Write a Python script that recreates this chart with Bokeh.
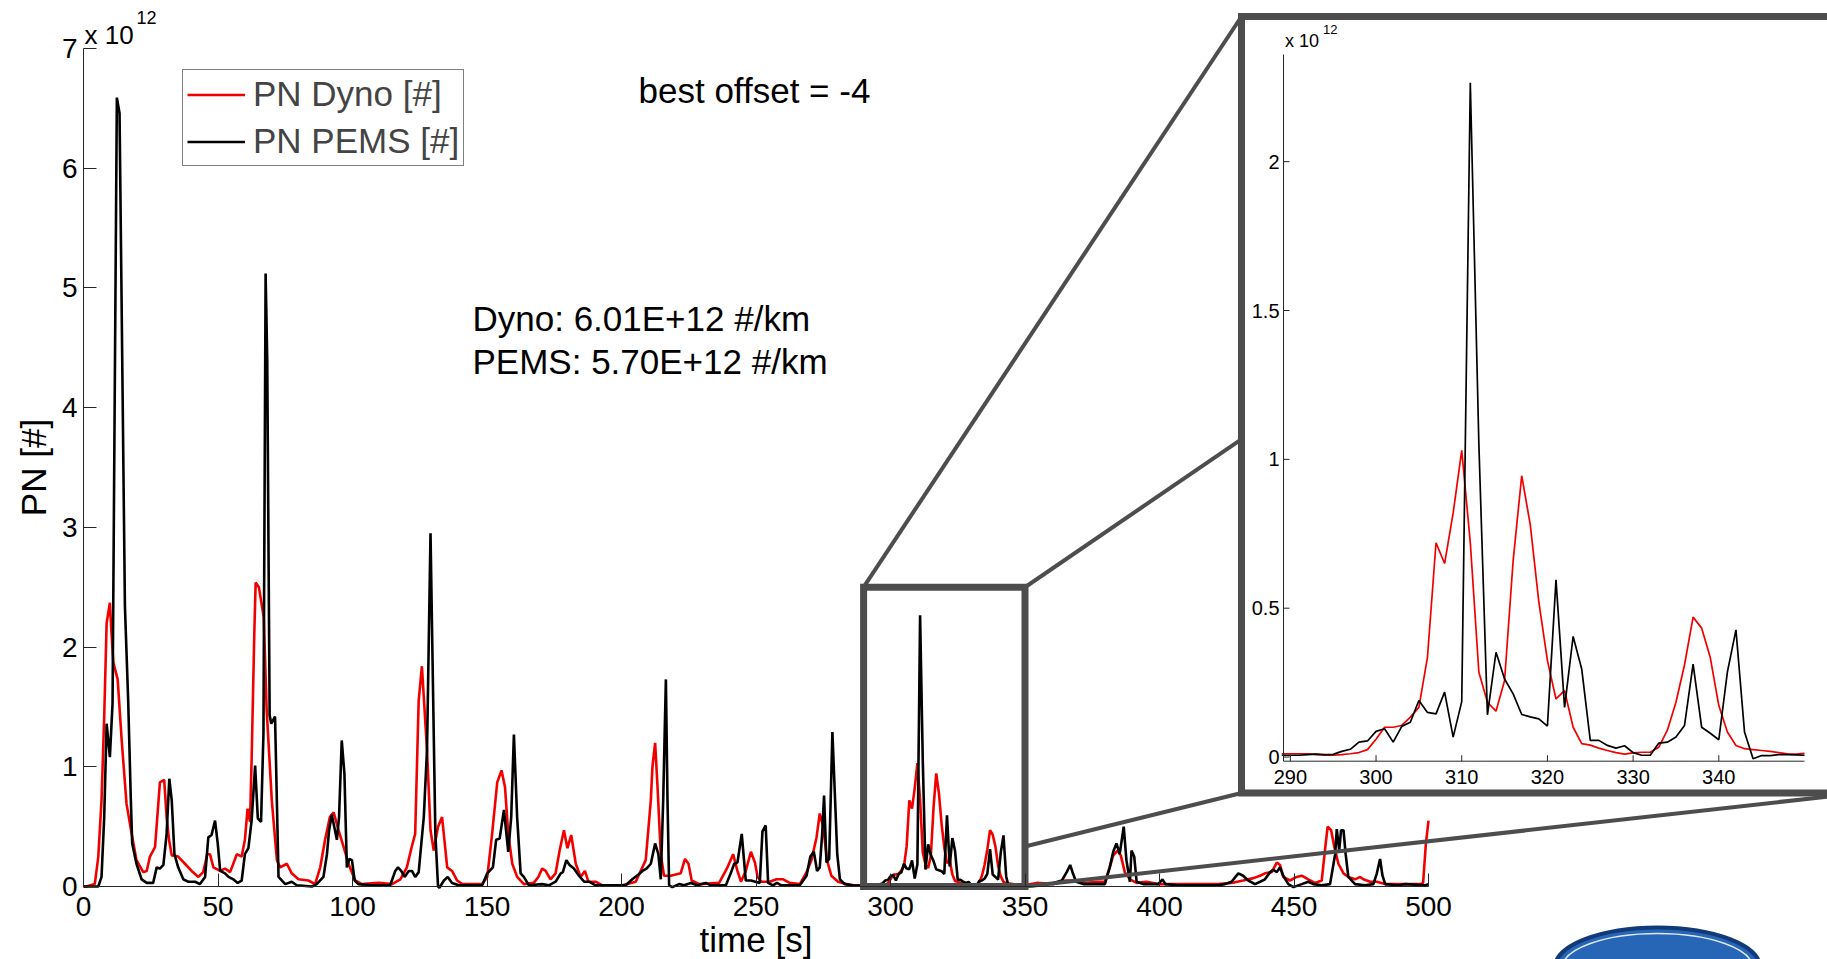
import math
from bokeh.plotting import figure
from bokeh.models import Range1d, FixedTicker, Legend, LegendItem
from bokeh.core.properties import value
from bokeh.embed import file_html
from bokeh.resources import INLINE

# ---------------- data (PN in units of 1e12 #, time in s) ----------------
DYNO_T_A = [
    0, 1, 4.2, 5.5, 6.7, 7.7, 8.6, 9.8, 10.4, 11.1,
    12.7, 14.2, 16.0, 17.9, 19.7, 22.2, 23.5, 24.7, 26.6, 28.4,
    30.0, 30.9, 31.8, 32.8, 35.2, 37.7, 40.2, 42.7, 44.5, 46.0,
    47.0, 48.3, 50.8, 52.6, 54.5, 57.0, 58.8, 60.0, 61.0, 61.9,
    62.5, 63.5, 64.0, 65.2, 67.0, 68.1, 70.0, 71.9, 73.1, 75.6,
    77.4, 79.9, 83.6, 86.1, 88.0, 89.8, 91.6, 93.0, 94.8, 96.7,
    98.5, 101.0, 103.5, 109.7, 114.7, 117.8, 120.2, 122.0, 123.3, 124.6,
    125.8, 127.7, 129.0, 130.2, 131.8, 133.3, 135.2, 137.0, 138.9, 140.8,
    148.2, 150.1, 151.9, 153.8, 155.4, 156.7, 157.9, 159.4, 161.2, 163.7,
    167.4, 169.1, 170.5, 171.8, 173.6, 175.5, 177.0, 178.6, 179.9, 181.3,
    183.0, 184.8, 186.4, 187.7, 190.4, 192.9, 200.3, 205.3, 209.0, 210.9,
    211.5, 212.5, 213.4, 214.6, 215.8, 218.3, 222.0, 223.6, 224.9, 226.1,
    228.9, 236.3, 239.4, 241.5, 243.1, 244.4, 246.2, 248.1, 249.6, 250.6,
    252.0, 255.1, 257.6, 260.1, 262.5, 266.3, 268.8, 270.6, 272.5, 273.7,
    275.0, 276.4, 278.0, 280.5, 283.6, 286.0]
DYNO_V_A = [
    0.00, 0.00, 0.02, 0.25, 0.72, 1.42, 2.20, 2.37, 2.12, 1.87,
    1.73, 1.22, 0.69, 0.44, 0.22, 0.12, 0.13, 0.25, 0.33, 0.87,
    0.89, 0.58, 0.39, 0.26, 0.25, 0.19, 0.13, 0.08, 0.12, 0.27,
    0.27, 0.16, 0.13, 0.15, 0.12, 0.27, 0.25, 0.39, 0.65, 0.54,
    1.06, 2.12, 2.54, 2.50, 2.25, 1.47, 0.72, 0.22, 0.16, 0.19,
    0.11, 0.06, 0.05, 0.02, 0.16, 0.39, 0.58, 0.62, 0.47, 0.33,
    0.19, 0.05, 0.02, 0.03, 0.02, 0.06, 0.16, 0.33, 0.44, 1.55,
    1.84, 1.14, 0.47, 0.30, 0.50, 0.58, 0.16, 0.13, 0.05, 0.02,
    0.02, 0.08, 0.44, 0.87, 0.97, 0.83, 0.44, 0.19, 0.08, 0.02,
    0.03, 0.08, 0.15, 0.13, 0.06, 0.11, 0.30, 0.47, 0.32, 0.43,
    0.19, 0.08, 0.13, 0.04, 0.04, 0.01, 0.01, 0.04, 0.22, 0.72,
    1.00, 1.20, 0.83, 0.27, 0.09, 0.09, 0.11, 0.23, 0.19, 0.05,
    0.02, 0.03, 0.16, 0.27, 0.13, 0.04, 0.13, 0.29, 0.20, 0.08,
    0.04, 0.04, 0.06, 0.06, 0.03, 0.02, 0.12, 0.22, 0.41, 0.61,
    0.50, 0.22, 0.09, 0.04, 0.02, 0.01]

# 1-s samples inside the zoomed window 289..350 s
ZOOM_T = [289, 290, 291, 292, 293, 294, 295, 296, 297, 298,
          299, 300, 301, 302, 303, 304, 305, 306, 307, 308,
          309, 310, 311, 312, 313, 314, 315, 316, 317, 318,
          319, 320, 321, 322, 323, 324, 325, 326, 327, 328,
          329, 330, 331, 332, 333, 334, 335, 336, 337, 338,
          339, 340, 341, 342, 343, 344, 345, 346, 347, 348,
          349, 350]
DYNO_V_ZOOM = [
    0.011, 0.011, 0.011, 0.011, 0.009, 0.006, 0.006, 0.008, 0.011, 0.015,
    0.025, 0.060, 0.100, 0.100, 0.106, 0.134, 0.167, 0.335, 0.720, 0.650,
    0.820, 1.030, 0.720, 0.285, 0.184, 0.154, 0.257, 0.660, 0.945, 0.780,
    0.520, 0.324, 0.195, 0.223, 0.100, 0.045, 0.040, 0.030, 0.022, 0.015,
    0.010, 0.014, 0.016, 0.016, 0.033, 0.090, 0.184, 0.310, 0.470, 0.433,
    0.335, 0.173, 0.084, 0.039, 0.028, 0.025, 0.022, 0.019, 0.015, 0.011,
    0.010, 0.012]
PEMS_V_ZOOM = [
    0.006, 0.006, 0.006, 0.008, 0.010, 0.008, 0.009, 0.019, 0.026, 0.050,
    0.054, 0.086, 0.095, 0.050, 0.103, 0.117, 0.190, 0.150, 0.145, 0.218,
    0.067, 0.186, 2.265, 1.050, 0.142, 0.352, 0.262, 0.212, 0.143, 0.135,
    0.128, 0.104, 0.595, 0.167, 0.405, 0.296, 0.056, 0.056, 0.039, 0.030,
    0.038, 0.015, 0.006, 0.006, 0.047, 0.050, 0.067, 0.106, 0.312, 0.100,
    0.080, 0.058, 0.285, 0.427, 0.084, -0.006, 0.005, 0.005, 0.008, 0.008,
    0.007, 0.006]

DYNO_T_C = [
    354.4, 360.6, 365.0, 368.0, 373.0, 377.3, 379.7, 381.5, 382.8, 384.4,
    385.6, 387.1, 389.0, 391.5, 395.2, 399.5, 403.2, 411.9, 421.8, 426.8,
    431.1, 434.9, 437.4, 439.2, 441.7, 443.6, 444.8, 446.0, 448.5, 451.0,
    452.9, 455.3, 457.8, 460.3, 461.5, 462.5, 463.8, 465.0, 466.5, 468.4,
    470.2, 472.7, 474.6, 475.8, 478.3, 480.8, 483.9, 488.8, 493.8, 496.9,
    498.0, 499.0, 499.5, 500.0]
DYNO_V_C = [
    0.03, 0.02, 0.05, 0.05, 0.03, 0.04, 0.04, 0.16, 0.26, 0.30,
    0.26, 0.12, 0.06, 0.03, 0.04, 0.02, 0.02, 0.02, 0.02, 0.03,
    0.05, 0.07, 0.09, 0.11, 0.12, 0.20, 0.18, 0.08, 0.05, 0.08,
    0.09, 0.06, 0.03, 0.05, 0.30, 0.50, 0.47, 0.33, 0.19, 0.11,
    0.08, 0.06, 0.08, 0.06, 0.04, 0.04, 0.02, 0.02, 0.02, 0.02,
    0.03, 0.35, 0.45, 0.55]

PEMS_T_A = [
    0, 1, 2, 3, 4, 5.5, 6.7, 7.7, 8.6, 9.8,
    10.8, 12.4, 13.4, 15.4, 16.6, 17.6, 18.1, 19.7, 21.6, 23.5,
    25.9, 27.2, 28.4, 29.7, 30.9, 31.9, 32.8, 33.8, 35.2, 37.1,
    39.0, 41.5, 43.3, 45.2, 46.4, 47.6, 48.9, 49.9, 50.8, 52.6,
    53.9, 55.7, 57.3, 58.8, 60.0, 61.3, 62.5, 63.8, 64.8, 66.0,
    66.9, 67.7, 68.3, 69.2, 69.8, 71.2, 72.5, 75.0, 77.4, 79.3,
    84.9, 86.7, 89.2, 90.5, 91.3, 92.3, 94.2, 95.0, 96.0, 97.0,
    97.9, 98.8, 99.8, 100.8, 102.2, 107.2, 114.0, 115.9, 116.9, 118.1,
    119.4, 120.9, 122.1, 123.3, 124.6, 126.5, 127.7, 129.0, 130.8, 131.8,
    132.3, 134.0, 135.4, 137.0, 139.5, 148.2, 150.1, 152.2, 153.4, 154.7,
    156.3, 157.9, 159.0, 160.0, 161.2, 162.5, 163.7, 165.6, 170.5, 173.0,
    175.5, 177.4, 178.2, 179.5, 180.7, 182.3, 184.2, 186.1, 187.9, 190.4,
    201.6, 204.0, 206.3, 207.8, 209.3, 210.9, 212.5, 213.7, 214.6, 215.5,
    216.5, 217.1, 217.7, 218.9, 221.4, 223.3, 225.8, 228.2, 231.3, 233.2,
    238.8, 240.6, 241.9, 243.1, 244.7, 246.2, 248.1, 251.4, 252.4, 253.6,
    254.5, 256.3, 257.8, 259.4, 266.3, 268.8, 270.2, 271.5, 272.7, 273.7,
    274.6, 275.3, 276.2, 277.2, 278.4, 279.3, 280.2, 281.2, 283.0, 286.1]
PEMS_V_A = [
    0.00, 0.00, 0.00, 0.00, 0.00, 0.00, 0.08, 0.58, 1.36, 1.08,
    1.53, 6.59, 6.46, 2.34, 1.56, 0.72, 0.36, 0.19, 0.06, 0.03,
    0.03, 0.16, 0.15, 0.18, 0.44, 0.90, 0.72, 0.27, 0.16, 0.06,
    0.04, 0.04, 0.02, 0.08, 0.41, 0.43, 0.55, 0.36, 0.13, 0.11,
    0.08, 0.06, 0.03, 0.05, 0.27, 0.32, 0.55, 1.01, 0.57, 0.54,
    1.28, 5.12, 4.40, 1.43, 1.36, 1.42, 0.08, 0.02, 0.04, 0.01,
    0.00, 0.02, 0.08, 0.27, 0.47, 0.60, 0.39, 0.58, 1.22, 0.94,
    0.16, 0.23, 0.22, 0.05, 0.02, 0.01, 0.01, 0.13, 0.16, 0.13,
    0.08, 0.13, 0.13, 0.08, 0.12, 0.58, 1.14, 2.95, 0.44, 0.00,
    -0.01, 0.05, 0.08, 0.03, 0.01, 0.01, 0.11, 0.16, 0.39, 0.40,
    0.64, 0.29, 0.58, 1.27, 0.58, 0.11, 0.08, 0.01, 0.02, 0.01,
    0.04, 0.11, 0.12, 0.22, 0.18, 0.15, 0.09, 0.04, 0.04, 0.01,
    0.01, 0.06, 0.10, 0.13, 0.15, 0.19, 0.36, 0.27, 0.06, 0.72,
    1.73, 0.72, 0.01, -0.005, 0.02, 0.01, 0.03, 0.01, 0.03, 0.01,
    0.01, 0.11, 0.19, 0.20, 0.44, 0.05, 0.05, 0.03, 0.46, 0.51,
    0.03, 0.01, 0.03, 0.01, 0.01, 0.09, 0.25, 0.29, 0.13, 0.16,
    0.44, 0.76, 0.20, 0.23, 1.29, 0.78, 0.27, 0.06, 0.02, 0.01]

PEMS_T_C = [
    353.1, 358.1, 360.6, 363.7, 365.5, 366.8, 367.8, 369.0, 371.7, 377.3,
    379.7, 381.5, 382.8, 384.0, 385.2, 386.7, 387.7, 389.0, 389.6, 390.6,
    391.5, 394.0, 399.5, 401.1, 402.2, 407.0, 421.8, 424.3, 426.8, 429.3,
    431.1, 433.0, 435.5, 437.4, 439.2, 441.1, 442.3, 443.6, 444.8, 446.0,
    447.9, 449.8, 452.9, 455.3, 457.2, 460.3, 463.4, 465.3, 465.9, 466.8,
    467.5, 468.4, 469.2, 470.2, 472.7, 476.4, 479.5, 480.8, 482.0, 482.9,
    483.9, 488.8, 491.3, 498.8, 500.0]
PEMS_V_C = [
    0.005, 0.02, 0.03, 0.05, 0.12, 0.18, 0.11, 0.04, 0.02, 0.02,
    0.02, 0.16, 0.29, 0.36, 0.27, 0.50, 0.22, 0.04, 0.30, 0.25,
    0.04, 0.02, 0.02, 0.06, 0.02, 0.01, 0.01, 0.02, 0.04, 0.11,
    0.09, 0.05, 0.02, 0.04, 0.06, 0.12, 0.14, 0.12, 0.16, 0.09,
    0.02, -0.005, 0.02, 0.04, 0.02, 0.01, 0.02, 0.27, 0.48, 0.30,
    0.47, 0.47, 0.27, 0.08, 0.02, 0.01, 0.02, 0.11, 0.23, 0.09,
    0.02, 0.01, 0.02, 0.01, 0.02]

X_TICKS = [0, 50, 100, 150, 200, 250, 300, 350, 400, 450, 500]
Y_TICKS = [0, 1, 2, 3, 4, 5, 6, 7]
ZOOM_X_TICKS = [290, 300, 310, 320, 330, 340]
ZOOM_Y_TICKS = [0, 0.5, 1, 1.5, 2]
ZOOM_Y_LABELS = ["0", "0.5", "1", "1.5", "2"]
ZOOM_BOX = (290, 350, 0, 2.5)          # xmin, xmax, ymin, ymax of zoom window
ZOOM_XLIM = (289.2, 350.0)
ZOOM_YLIM = (-0.014, 2.36)
X_LABEL = "time [s]"
Y_LABEL = "PN [#]"
NOTE_OFFSET = "best offset = -4"
NOTE_DYNO = "Dyno: 6.01E+12 #/km"
NOTE_PEMS = "PEMS: 5.70E+12 #/km"

# full series for the main axes
DYNO_T = DYNO_T_A + ZOOM_T + DYNO_T_C
DYNO_V = DYNO_V_A + DYNO_V_ZOOM + DYNO_V_C
PEMS_T = PEMS_T_A + ZOOM_T + PEMS_T_C
PEMS_V = PEMS_V_A + PEMS_V_ZOOM + PEMS_V_C

# ---------------- layout constants (page pixels) ----------------
W, H = 1827, 959
ZERO_X = 83            # page x of t = 0 (main y axis)
ZERO_Y = 886           # page y of PN = 0 (main x axis)
PX_S = 2.69            # px per second (main)
PX_U = 119.71          # px per 1e12 (main)
IN_L, IN_R = 1283.0, 1804.0   # inset axes x pixels
IN_B, IN_T = 760.7, 54.0      # inset axes y pixels
INBOX = (1241.0, 1859.0, 16.0, 792.5)  # inset frame: left, right, top, bottom px

FONT = "Liberation Sans"
RED = "#f20000"
BLACK = "#000000"
GRAY = "#4d4d4d"
AXC = "#262626"


def mx(px):
    return (px - ZERO_X) / PX_S


def my(py):
    return (ZERO_Y - py) / PX_U


ipx_s = (IN_R - IN_L) / (ZOOM_XLIM[1] - ZOOM_XLIM[0])
ipx_u = (IN_B - IN_T) / (ZOOM_YLIM[1] - ZOOM_YLIM[0])
zx0, zx1 = ZOOM_XLIM
zy0, zy1 = ZOOM_YLIM

# the frame covers the whole page; the axes sit at t = 0 and PN = 0
p = figure(width=W, height=H,
           x_range=Range1d(mx(0), mx(W)), y_range=Range1d(my(H), my(0)),
           output_backend="svg", toolbar_location=None,
           min_border_left=0, min_border_right=0,
           min_border_top=0, min_border_bottom=0)
p.extra_x_ranges = {"ix": Range1d(zx0 - IN_L / ipx_s, zx0 + (W - IN_L) / ipx_s)}
p.extra_y_ranges = {"iy": Range1d(zy0 - (H - IN_B) / ipx_u, zy0 + IN_B / ipx_u)}
p.grid.visible = False
p.outline_line_color = None
p.background_fill_color = "white"
p.border_fill_color = "white"

for ax, ticks in ((p.xaxis[0], X_TICKS), (p.yaxis[0], Y_TICKS)):
    ax.fixed_location = 0
    ax.ticker = FixedTicker(ticks=ticks)
    ax.bounds = (ticks[0], ticks[-1])
    ax.axis_line_color = AXC
    ax.axis_line_width = 1
    ax.major_tick_in = 13
    ax.major_tick_out = 0
    ax.minor_tick_in = 0
    ax.minor_tick_out = 0
    ax.major_tick_line_color = AXC
    # tick labels are written below / left of the axes as text
    ax.major_label_overrides = {t: "" for t in ticks}
    ax.major_label_text_font_size = "0px"
    ax.major_label_standoff = 0

p.text(x=X_TICKS, y=[my(906)] * len(X_TICKS), text=[str(t) for t in X_TICKS],
       text_font=value(FONT), text_font_size=value("28px"), text_align="center",
       text_baseline="middle", text_color="black")
p.text(x=[mx(77)] * len(Y_TICKS), y=Y_TICKS, text=[str(t) for t in Y_TICKS],
       text_font=value(FONT), text_font_size=value("28px"), text_align="right",
       text_baseline="middle", text_color="black")
p.text(x=[(X_TICKS[0] + X_TICKS[-1]) / 2], y=[my(939)], text=[X_LABEL],
       text_font=value(FONT), text_font_size=value("35px"), text_align="center",
       text_baseline="middle", text_color="black")
p.text(x=[mx(33)], y=[(Y_TICKS[0] + Y_TICKS[-1]) / 2], text=[Y_LABEL],
       angle=math.pi / 2, text_font=value(FONT), text_font_size=value("35px"),
       text_align="center", text_baseline="middle", text_color="black")

# main series
r_dyno = p.line(DYNO_T, DYNO_V, line_color=RED, line_width=2.6)
r_pems = p.line(PEMS_T, PEMS_V, line_color=BLACK, line_width=2.6)

# zoom box on main axes
bx0, bx1, by0, by1 = ZOOM_BOX
p.quad(left=[bx0], right=[bx1], bottom=[by0], top=[by1], fill_color=None,
       line_color=GRAY, line_width=7, line_join="miter")

# connector lines
L, R, T, B = mx(INBOX[0]), mx(INBOX[1]), my(INBOX[2]), my(INBOX[3])
yc = by0 + (B - by0) * (bx1 - bx0) / (L - bx0)
p.segment(x0=[bx0, bx1, bx1, bx1], y0=[by1, by1, yc, by0],
          x1=[L, R, L, R], y1=[T, T, B, B], line_color=GRAY, line_width=4)

# inset frame
p.quad(left=[L], right=[R], bottom=[B], top=[T], fill_color="white",
       line_color=GRAY, line_width=7, line_join="miter")

# inset series
p.line(ZOOM_T, DYNO_V_ZOOM, x_range_name="ix", y_range_name="iy",
       line_color=RED, line_width=1.7)
p.line(ZOOM_T, PEMS_V_ZOOM, x_range_name="ix", y_range_name="iy",
       line_color=BLACK, line_width=1.7)

# inset axes
p.segment(x0=[zx0, zx0], y0=[zy0, zy0], x1=[zx0, zx1], y1=[zy1, zy0],
          x_range_name="ix", y_range_name="iy", line_color=AXC, line_width=1)
tk_x = 6 / ipx_s
tk_y = 6 / ipx_u
p.segment(x0=[zx0] * len(ZOOM_Y_TICKS), y0=ZOOM_Y_TICKS,
          x1=[zx0 + tk_x] * len(ZOOM_Y_TICKS), y1=ZOOM_Y_TICKS,
          x_range_name="ix", y_range_name="iy", line_color=AXC, line_width=1)
p.segment(x0=ZOOM_X_TICKS, y0=[zy0] * len(ZOOM_X_TICKS),
          x1=ZOOM_X_TICKS, y1=[zy0 + tk_y] * len(ZOOM_X_TICKS),
          x_range_name="ix", y_range_name="iy", line_color=AXC, line_width=1)
p.text(x=[zx0 - 4 / ipx_s] * len(ZOOM_Y_TICKS), y=ZOOM_Y_TICKS, text=ZOOM_Y_LABELS,
       x_range_name="ix", y_range_name="iy", text_font=value(FONT),
       text_font_size=value("20px"), text_align="right", text_baseline="middle",
       text_color="black")
p.text(x=ZOOM_X_TICKS, y=[zy0 - 16 / ipx_u] * len(ZOOM_X_TICKS),
       text=[str(t) for t in ZOOM_X_TICKS],
       x_range_name="ix", y_range_name="iy", text_font=value(FONT),
       text_font_size=value("20px"), text_align="center", text_baseline="middle",
       text_color="black")
p.text(x=[zx0 + 1.5 / ipx_s], y=[zy0 + (IN_B - 40.5) / ipx_u], text=["x 10"],
       x_range_name="ix", y_range_name="iy", text_font=value(FONT),
       text_font_size=value("18px"), text_align="left", text_baseline="middle")
p.text(x=[zx0 + 39.5 / ipx_s], y=[zy0 + (IN_B - 29.0) / ipx_u], text=["12"],
       x_range_name="ix", y_range_name="iy", text_font=value(FONT),
       text_font_size=value("13px"), text_align="left", text_baseline="middle")

# main exponent label
p.text(x=[mx(84)], y=[my(34)], text=["x 10"], text_font=value(FONT),
       text_font_size=value("26px"), text_align="left", text_baseline="middle")
p.text(x=[mx(136)], y=[my(16.5)], text=["12"], text_font=value(FONT),
       text_font_size=value("18px"), text_align="left", text_baseline="middle")

# notes
p.text(x=[mx(638)], y=[my(90)], text=[NOTE_OFFSET], text_font=value(FONT),
       text_font_size=value("35px"), text_align="left", text_baseline="middle")
p.text(x=[mx(472), mx(472)], y=[my(318), my(361)], text=[NOTE_DYNO, NOTE_PEMS],
       text_font=value(FONT), text_font_size=value("35px"), text_align="left",
       text_baseline="middle")

# logo oval in the corner (cut by the page edge)
p.ellipse(x=[mx(1657)], y=[my(967)], width=[205 / PX_S], height=[80 / PX_U],
          fill_color="#2766b6", line_color="#123a7a", line_width=4)
p.ellipse(x=[mx(1657)], y=[my(967)], width=[190 / PX_S], height=[68 / PX_U],
          fill_color=None, line_color="#dfe8f3", line_width=1.5)

legend = Legend(items=[LegendItem(label="PN Dyno [#]", renderers=[r_dyno]),
                       LegendItem(label="PN PEMS [#]", renderers=[r_pems])],
                location=(182, H - 166))
legend.label_text_font = FONT
legend.label_text_font_size = "35px"
legend.glyph_width = 58
legend.glyph_height = 33
legend.label_height = 33
legend.spacing = 7
legend.padding = 4
legend.margin = 0
legend.label_standoff = 8
legend.border_line_color = "black"
legend.border_line_width = 1
legend.background_fill_color = "white"
legend.background_fill_alpha = 1
p.add_layout(legend)

open("out.html", "w").write(file_html(p, INLINE))
